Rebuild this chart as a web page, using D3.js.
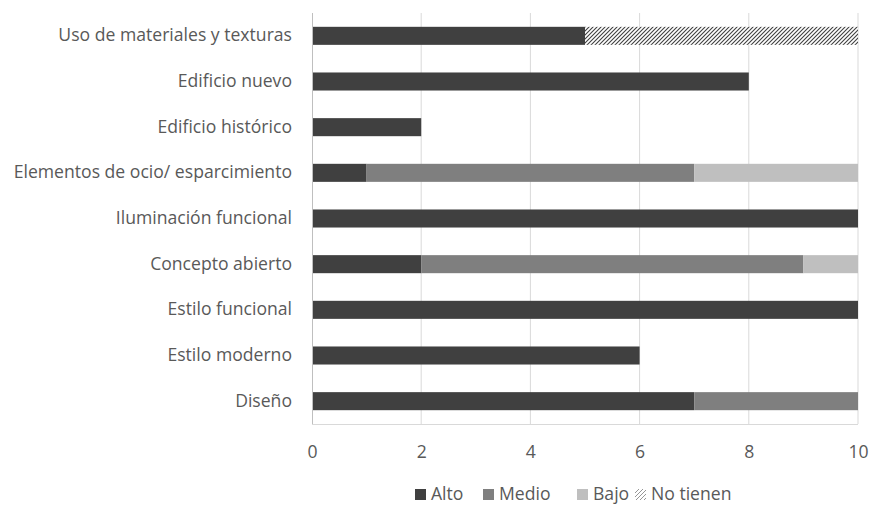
<!DOCTYPE html>
<html>
<head>
<meta charset="utf-8">
<script src="https://cdn.jsdelivr.net/npm/d3@7"></script>
<style>
  html, body { margin: 0; padding: 0; background: #fff; }
  svg { display: block; font-family: "Open Sans", "Noto Sans", sans-serif; }
</style>
</head>
<body>
<svg id="chart" width="871" height="506"></svg>
<script>
// Categories, listed top to bottom
const categories = [
  "Uso de materiales y texturas",
  "Edificio nuevo",
  "Edificio histórico",
  "Elementos de ocio/ esparcimiento",
  "Iluminación funcional",
  "Concepto abierto",
  "Estilo funcional",
  "Estilo moderno",
  "Diseño"
];
const seriesNames = ["Alto", "Medio", "Bajo", "No tienen"];
const alto     = [5, 8, 2, 1, 10, 2, 10, 6, 7];
const medio    = [0, 0, 0, 6, 0, 7, 0, 0, 3];
const bajo     = [0, 0, 0, 3, 0, 1, 0, 0, 0];
const noTienen = [5, 0, 0, 0, 0, 0, 0, 0, 0];
const xTicks = [0, 2, 4, 6, 8, 10];

const colors = ["#404040", "#7f7f7f", "#bfbfbf", "url(#hatch)"];
const fontSize = 17.6;
const textColor = "#595959";

const rows = categories.map((c, i) => ({
  category: c,
  "Alto": alto[i], "Medio": medio[i], "Bajo": bajo[i], "No tienen": noTienen[i]
}));

const svg = d3.select("#chart");
const margin = { left: 312, right: 13, top: 13, bottom: 82 };
const width = 871, height = 506;

const x = d3.scaleLinear().domain([0, 10]).range([margin.left, width - margin.right]);
const y = d3.scaleBand().domain(categories)
  .range([margin.top, height - margin.bottom]).paddingInner(0.605).paddingOuter(0.3025);

// Diagonal hatch for "No tienen"
const defs = svg.append("defs");
const pat = defs.append("pattern").attr("id", "hatch")
  .attr("patternUnits", "userSpaceOnUse").attr("width", 4).attr("height", 4);
pat.append("rect").attr("width", 4).attr("height", 4).attr("fill", "#fff");
pat.append("path").attr("d", "M-1,1 l2,-2 M0,4 l4,-4 M3,5 l2,-2")
  .attr("stroke", "#404040").attr("stroke-width", 1.1);

const patL = defs.append("pattern").attr("id", "hatchLegend")
  .attr("patternUnits", "userSpaceOnUse").attr("width", 4).attr("height", 4);
patL.append("rect").attr("width", 4).attr("height", 4).attr("fill", "#fff");
patL.append("path").attr("d", "M-1,1 l2,-2 M0,4 l4,-4 M3,5 l2,-2")
  .attr("stroke", "#8a8a8a").attr("stroke-width", 0.9);

// Vertical gridlines
svg.append("g").selectAll("line").data(xTicks.filter(d => d > 0)).join("line")
  .attr("x1", d => x(d)).attr("x2", d => x(d))
  .attr("y1", margin.top).attr("y2", height - margin.bottom)
  .attr("stroke", "#d9d9d9").attr("stroke-width", 1);

// Bottom baseline
svg.append("line")
  .attr("x1", x(0)).attr("x2", x(10))
  .attr("y1", height - margin.bottom + 0.5).attr("y2", height - margin.bottom + 0.5)
  .attr("stroke", "#d9d9d9");

// Stacked bars
const stack = d3.stack().keys(seriesNames)(rows);
svg.append("g").selectAll("g").data(stack).join("g")
  .attr("fill", (d, i) => colors[i])
  .selectAll("rect").data(d => d.filter(p => p[1] - p[0] > 0)).join("rect")
  .attr("x", d => x(d[0]))
  .attr("width", d => x(d[1]) - x(d[0]))
  .attr("y", d => y(d.data.category))
  .attr("height", y.bandwidth());

// Left axis line
svg.append("line")
  .attr("x1", x(0) + 0.5).attr("x2", x(0) + 0.5)
  .attr("y1", margin.top).attr("y2", height - margin.bottom)
  .attr("stroke", "#bfbfbf");

// Category labels
const yAxis = svg.append("g")
  .attr("transform", `translate(${x(0) - 20},0)`)
  .call(d3.axisLeft(y).tickSize(0).tickPadding(0));
yAxis.select(".domain").remove();
yAxis.selectAll("text").attr("fill", textColor).attr("font-size", fontSize)
  .attr("font-family", "'Open Sans', 'Noto Sans', sans-serif");

// Value axis labels
const xAxis = svg.append("g")
  .attr("transform", `translate(0,${height - margin.bottom})`)
  .call(d3.axisBottom(x).tickValues(xTicks).tickSize(0).tickPadding(0).tickFormat(d3.format("d")));
xAxis.select(".domain").remove();
xAxis.selectAll("text").attr("fill", textColor).attr("font-size", fontSize)
  .attr("y", 34).attr("dy", null)
  .attr("font-family", "'Open Sans', 'Noto Sans', sans-serif");

// Legend
const legendX = [415, 483, 577, 635];
const legendFill = ["#404040", "#7f7f7f", "#bfbfbf", "url(#hatchLegend)"];
const legend = svg.append("g");
seriesNames.forEach((name, i) => {
  const g = legend.append("g").attr("transform", `translate(${legendX[i]},489)`);
  g.append("rect").attr("width", 11).attr("height", 11).attr("y", 0)
    .attr("fill", legendFill[i]);
  g.append("text").attr("x", 16).attr("y", 11)
    .attr("fill", textColor).attr("font-size", fontSize)
    .text(name);
});
</script>
</body>
</html>
